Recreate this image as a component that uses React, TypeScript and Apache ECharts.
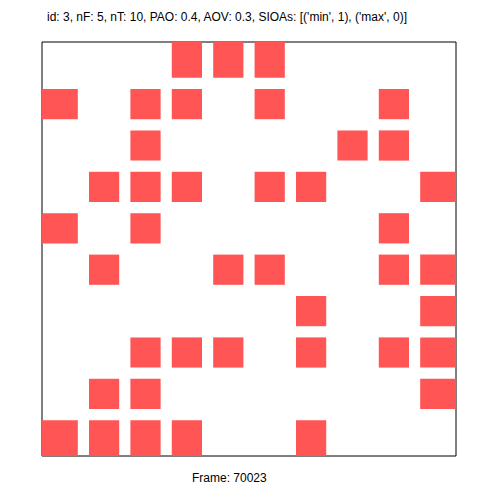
import React, { useEffect, useRef } from "react";
import * as echarts from "echarts";

const titleText = "id: 3, nF: 5, nT: 10, PAO: 0.4, AOV: 0.3, SIOAs: [('min', 1), ('max', 0)]";
const footerText = "Frame: 70023";
const nCols = 10;
const nRows = 10;
// filled cells per row (row 0 at top): column indices
const rowCells: number[][] = [
  [3, 4, 5],
  [0, 2, 3, 5, 8],
  [2, 7, 8],
  [1, 2, 3, 5, 6, 9],
  [0, 2, 8],
  [1, 4, 5, 8, 9],
  [6, 9],
  [2, 3, 4, 6, 8, 9],
  [1, 2, 9],
  [0, 1, 2, 3, 6],
];

export default function App() {
  const ref = useRef<HTMLDivElement>(null);
  useEffect(() => {
    if (!ref.current) return;
    const chart = echarts.init(ref.current, null, { renderer: "svg" });
    const data: number[][] = [];
    rowCells.forEach((cols, r) => cols.forEach((c) => data.push([c, r])));
    const half = 0.365;
    chart.setOption({
      animation: false,
      grid: {
        left: 34,
        top: 34,
        width: 414,
        height: 414,
        show: true,
        borderColor: "#000",
        borderWidth: 1,
        backgroundColor: "#fff",
      },
      xAxis: { type: "value", min: -0.5, max: nCols - 0.5, show: false },
      yAxis: { type: "value", min: -0.5, max: nRows - 0.5, inverse: true, show: false },
      graphic: [
        {
          type: "text",
          left: 39,
          top: 3,
          style: { text: titleText, font: "12px 'Liberation Sans', Arial, sans-serif", fill: "#000" },
        },
        {
          type: "text",
          left: 184,
          top: 464,
          style: { text: footerText, font: "12px 'Liberation Sans', Arial, sans-serif", fill: "#000" },
        },
      ],
      series: [
        {
          type: "custom",
          clip: true,
          data,
          renderItem: (params: any, api: any) => {
            const c = api.value(0);
            const r = api.value(1);
            const x0 = c === 0 ? -0.5 : c - half;
            const x1 = c === nCols - 1 ? nCols - 0.5 : c + half;
            const y0 = r === 0 ? -0.5 : r - half;
            const y1 = r === nRows - 1 ? nRows - 0.5 : r + half;
            const p0 = api.coord([x0, y0]);
            const p1 = api.coord([x1, y1]);
            return {
              type: "rect",
              shape: {
                x: Math.min(p0[0], p1[0]),
                y: Math.min(p0[1], p1[1]),
                width: Math.abs(p1[0] - p0[0]),
                height: Math.abs(p1[1] - p0[1]),
              },
              style: { fill: "#ff5555" },
            };
          },
          z: 1,
        },
      ],
    });
    return () => chart.dispose();
  }, []);
  return <div ref={ref} style={{ width: 492, height: 492 }} />;
}
